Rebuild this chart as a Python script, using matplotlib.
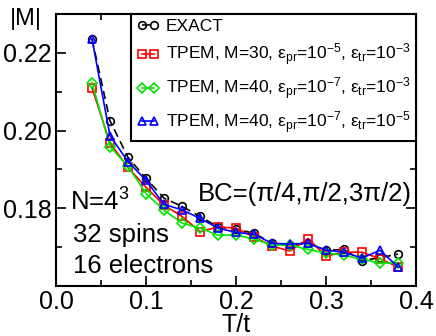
import matplotlib
matplotlib.use("Agg")
import matplotlib.pyplot as plt
from matplotlib.ticker import FixedLocator, MultipleLocator, FormatStrFormatter

plt.rcParams['font.family'] = ['Liberation Sans', 'DejaVu Sans']
plt.rcParams['mathtext.fontset'] = 'custom'
plt.rcParams['mathtext.rm'] = 'Liberation Sans'
plt.rcParams['mathtext.it'] = 'Liberation Sans'
plt.rcParams['mathtext.bf'] = 'Liberation Sans:bold'

# Data
T = [0.04, 0.06, 0.08, 0.10, 0.12, 0.14, 0.16, 0.18, 0.20,
     0.22, 0.24, 0.26, 0.28, 0.30, 0.32, 0.34, 0.36, 0.38]
exact = [0.2236, 0.2025, 0.1931, 0.1877, 0.1826, 0.1805, 0.1779, 0.1752, 0.1746,
         0.1736, 0.1710, 0.1705, 0.1710, 0.1692, 0.1694, 0.1665, 0.1673, 0.1682]
tpem_m30 = [0.2110, 0.1968, 0.1905, 0.1854, 0.1808, 0.1779, 0.1740, 0.1752, 0.1749,
            0.1726, 0.1703, 0.1690, 0.1722, 0.1677, 0.1687, 0.1687, 0.1670, 0.1649]
tpem_m40_e3 = [0.2123, 0.1959, 0.1908, 0.1838, 0.1795, 0.1762, 0.1749, 0.1731, 0.1731,
               0.1721, 0.1705, 0.1705, 0.1694, 0.1685, 0.1679, 0.1669, 0.1659, 0.1659]
tpem_m40_e5 = [0.2236, 0.1987, 0.1920, 0.1872, 0.1810, 0.1796, 0.1774, 0.1749, 0.1738,
               0.1733, 0.1710, 0.1708, 0.1710, 0.1692, 0.1687, 0.1672, 0.1692, 0.1649]

labels = ['EXACT',
          r'TPEM, M=30, $ε_{pr}$=10$^{-5}$, $ε_{tr}$=10$^{-3}$',
          r'TPEM, M=40, $ε_{pr}$=10$^{-7}$, $ε_{tr}$=10$^{-3}$',
          r'TPEM, M=40, $ε_{pr}$=10$^{-7}$, $ε_{tr}$=10$^{-5}$']
yticks = [0.18, 0.20, 0.22]
yminor = [0.17, 0.19, 0.21]

fig = plt.figure(figsize=(4.36, 3.36), dpi=100)
ax = fig.add_axes([56/436, 50/336, 360/436, 272/336])

ms = 5.5
mew = 1.2
lw = 1.2
ax.plot(T, exact, 'k--', dashes=(5, 3), marker='o', mfc='none', ms=ms, mew=mew, lw=lw, label=labels[0])
ax.plot(T, tpem_m30, color='#ff0000', marker='s', mfc='none', ms=ms, mew=mew, lw=lw, label=labels[1])
ax.plot(T, tpem_m40_e3, color='#00e600', marker='D', mfc='none', ms=ms-0.5, mew=mew, lw=lw, label=labels[2])
ax.plot(T, tpem_m40_e5, color='#0000ff', marker='^', mfc='none', ms=ms+0.5, mew=mew, lw=lw, label=labels[3])

ax.set_xlim(0.0, 0.4)
ax.set_ylim(0.16, 0.23)
ax.xaxis.set_major_locator(MultipleLocator(0.1))
ax.xaxis.set_minor_locator(MultipleLocator(0.05))
ax.xaxis.set_major_formatter(FormatStrFormatter('%.1f'))
ax.yaxis.set_major_locator(FixedLocator(yticks))
ax.yaxis.set_minor_locator(FixedLocator(yminor))
ax.yaxis.set_major_formatter(FormatStrFormatter('%.2f'))

for s in ax.spines.values():
    s.set_linewidth(1.5)
ax.tick_params(axis='both', which='both', direction='in', top=True, right=True, width=1.2)
ax.tick_params(axis='both', which='major', length=7, labelsize=18, pad=3)
ax.tick_params(axis='both', which='minor', length=4)

ax.set_xlabel('T/t', fontsize=18, labelpad=-1)
fig.text(10/436, 1 - 25/336, '|M|', fontsize=17, va='baseline', ha='left')

ax.text(0.0156, 0.1795, 'N=4$^{3}$', fontsize=18.5, va='baseline')
ax.text(0.019, 0.1713, '32 spins', fontsize=18.5, va='baseline')
ax.text(0.019, 0.1633, '16 electrons', fontsize=18.5, va='baseline')
ax.text(0.158, 0.1820, 'BC=(π/4,π/2,3π/2)', fontsize=18.5, va='baseline')

leg = ax.legend(loc='upper right', bbox_to_anchor=(1.0, 1.0), borderaxespad=0,
                fontsize=12.5, numpoints=2, handlelength=1.3, handletextpad=0.4,
                borderpad=0.3, labelspacing=0.42, fancybox=False, framealpha=1,
                edgecolor='black')
leg.get_frame().set_linewidth(1.5)

plt.savefig('out.png', dpi=100)
